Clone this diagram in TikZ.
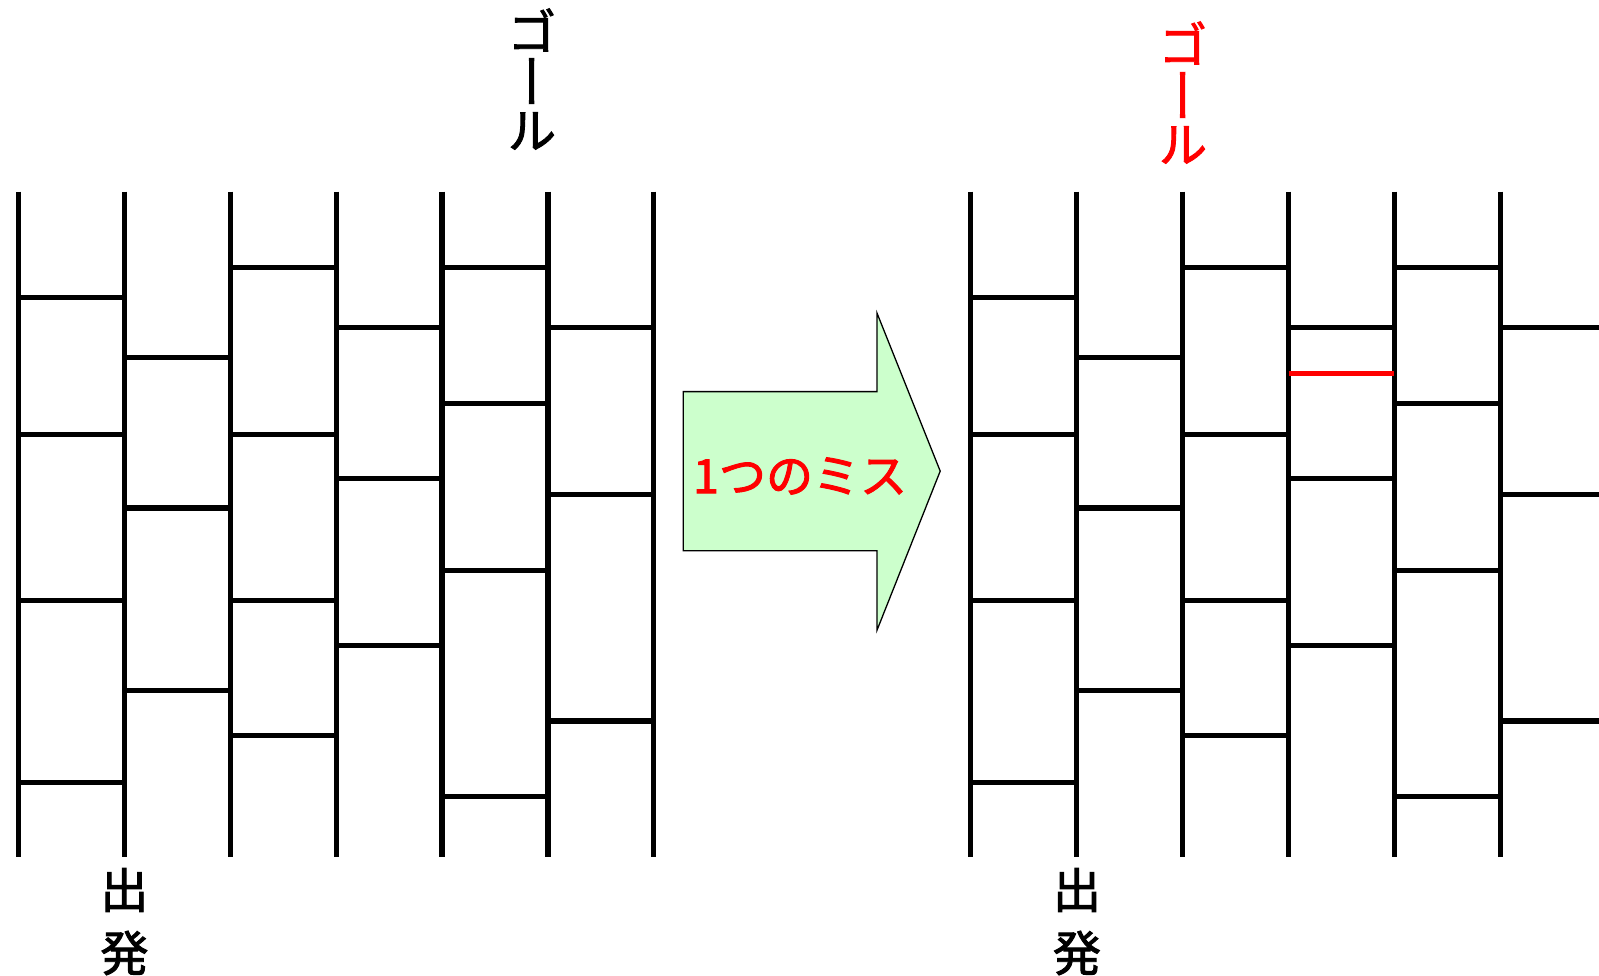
\documentclass[tikz,border=0pt]{standalone}
\usepackage{fontspec}
\usepackage{graphicx}
\newfontfamily\jp[FakeBold=2]{Noto Sans CJK JP}
\newfontfamily\jpv[RawFeature=+vert,FakeBold=2]{Noto Sans CJK JP}
\definecolor{arrowgreen}{HTML}{CCFFCC}
\begin{document}
\begin{tikzpicture}[x=1pt,y=-1pt,
  pole/.style={line width=5.2pt,black},
  rung/.style={line width=5.2pt,black},
  missrung/.style={line width=5.2pt,red},
  lbl/.style={inner sep=0pt,font=\jp\fontsize{48}{48}\selectfont},
  lblv/.style={inner sep=0pt,font=\jpv\fontsize{48}{48}\selectfont},
  bigarrow/.style={draw=black,line width=1.3pt,fill=arrowgreen,line join=miter},
  misstext/.style={inner sep=0pt,text=red,font=\jp\fontsize{47}{47}\selectfont}]
\useasboundingbox (0,0) rectangle (1599,976);
\clip (0,0) rectangle (1599,976);
% ladders
\foreach \xo/\nm in {18.4/L,970.8/R}{
  \foreach \i in {0,...,6}{
    \coordinate (\nm t\i) at (\xo+\i*105.9,191.7);
    \coordinate (\nm b\i) at (\xo+\i*105.9,856.7);
    \draw[pole] (\nm t\i) -- (\nm b\i);
  }
  \foreach \c/\yy in {0/297.8,0/434.4,0/600.7,0/782.2,
                      1/357.9,1/507.9,1/690.4,
                      2/267.2,2/434.4,2/600.7,2/735.3,
                      3/327.4,3/478.3,3/645.5,
                      4/267.2,4/403.8,4/570.1,4/796.5,
                      5/327.4,5/494.6,5/721.0}{
    \pgfmathtruncatemacro{\d}{\c+1}
    \draw[rung] (\nm t\c |- 0,\yy) -- (\nm t\d |- 0,\yy);
  }
}
% the mistaken rung
\draw[missrung] (Rt3 |- 0,373.2) -- (Rt4 |- 0,373.2);
% labels, left
\node[lbl] (lg1) at (532,30) {ゴ};
\node[lblv] (lg2) at (532,81) {\scalebox{1}[1.2]{ー}};
\node[lbl] (lg3) at (532,131) {ル};
\node[lbl] (ls1) at (124.4,890) {出};
\node[lbl] (ls2) at (124.4,953) {発};
% labels, right
\node[lbl,text=red] (rg1) at (1183,43) {ゴ};
\node[lblv,text=red] (rg2) at (1183,95) {\scalebox{1}[1.2]{ー}};
\node[lbl,text=red] (rg3) at (1183,145) {ル};
\node[lbl] (rs1) at (1076.9,890) {出};
\node[lbl] (rs2) at (1076.9,953) {発};
% arrow
\draw[bigarrow] (683.3,391.6) -- (877,391.6) -- (877,313.1) -- (940.2,471.1)
  -- (877,630.2) -- (877,550.7) -- (683.3,550.7) -- cycle;
\node[misstext] (miss) at (800,476) {1つのミス};
\end{tikzpicture}
\end{document}
